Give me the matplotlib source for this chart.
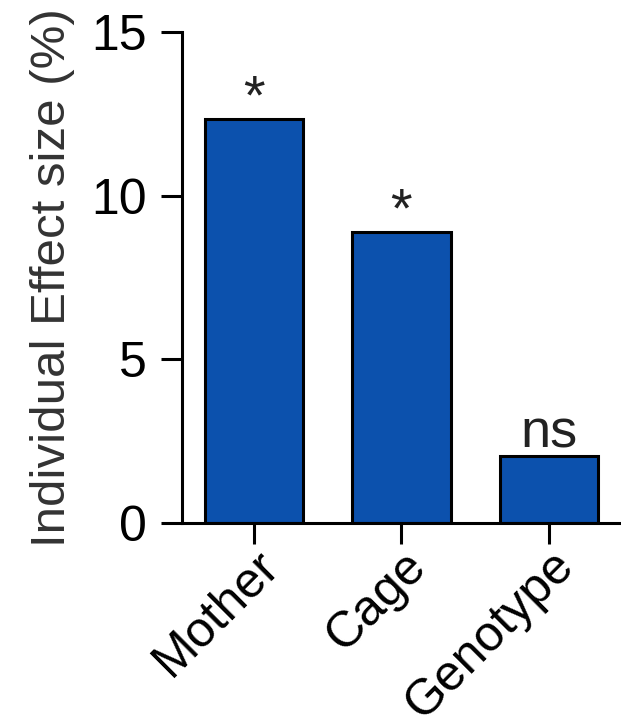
import matplotlib
matplotlib.use('Agg')
import matplotlib.pyplot as plt
import matplotlib.transforms as mtransforms

# effect sizes
categories = ['Mother', 'Cage', 'Genotype']
effect = [12.35, 8.9, 2.04]
signif = ['*', '*', 'ns']

plt.rcParams['font.family'] = ['Liberation Sans', 'DejaVu Sans']

fig = plt.figure(figsize=(6.21, 7.24), dpi=100)
ax = fig.add_axes([0.293, 0.2776, 0.707, 0.678])

x = list(range(len(categories)))
ax.bar(x, effect, width=0.667, color='#0C51AD', edgecolor='black', linewidth=2.2)

for xi, val, s in zip(x, effect, signif):
    if s == '*':
        ax.text(xi, val + 0.6, s, ha='center', va='center', fontsize=40, color='#222222')
    else:
        ax.text(xi, val + 0.27, s, ha='center', va='baseline', fontsize=39, color='#222222')

ax.set_xlim(-0.49, 2.49)
ax.set_ylim(0, 15)
ax.set_yticks([0, 5, 10, 15])
ax.set_xticks(x)
ax.set_xticklabels([])
ax.set_ylabel('Individual Effect size (%)', fontsize=35.5, color='#333333', labelpad=12)

# rotated category labels, right end hooked just below/right of each tick
lab_tr = ax.get_xaxis_transform() + mtransforms.ScaledTranslation(27/100, -45/100, fig.dpi_scale_trans)
for xi, name in zip(x, categories):
    ax.text(xi, 0, name, transform=lab_tr, rotation=45, rotation_mode='anchor',
            ha='right', va='baseline', fontsize=36, color='black')

for side in ['top', 'right']:
    ax.spines[side].set_visible(False)
for side in ['left', 'bottom']:
    ax.spines[side].set_linewidth(2.2)
ax.tick_params(axis='both', width=2.2, length=15, labelsize=36, pad=10)

fig.savefig('out.png', dpi=100)
